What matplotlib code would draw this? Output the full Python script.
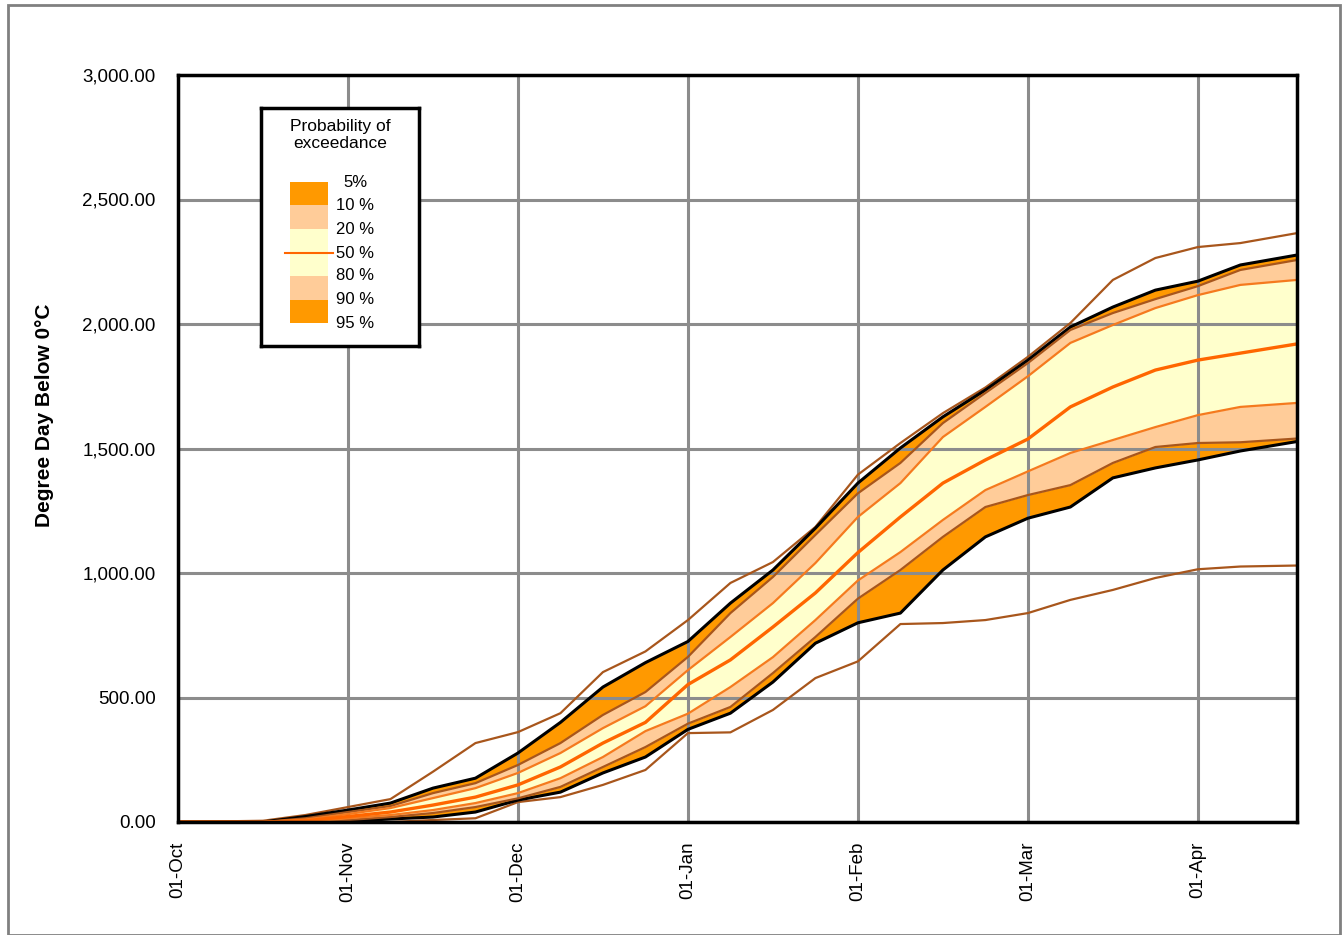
import matplotlib
matplotlib.use("Agg")
import matplotlib.pyplot as plt
from matplotlib.patches import Rectangle
from matplotlib.ticker import FuncFormatter

plt.rcParams['font.family'] = ['Liberation Sans', 'DejaVu Sans']

#--------------------- Data ---------------------
# days since 01-Oct (axis uses 30-day spacing between month ticks)
days = [0, 15, 22.5, 30, 37.5, 45, 52.5, 60, 67.5, 75, 82.5, 90, 97.5, 105, 112.5,
        120, 127.5, 135, 142.5, 150, 157.5, 165, 172.5, 180, 187.5, 197.5]

dd_max = [0, 5, 28, 60, 92, 202, 317, 361, 437, 602, 685, 811, 960, 1044, 1185,
          1395, 1522, 1642, 1745, 1868, 2004, 2177, 2265, 2309, 2325, 2365]
p05 = [0, 0, 22, 48, 76, 136, 176, 277, 400, 542, 640, 725, 879, 1012, 1180,
       1361, 1502, 1627, 1735, 1855, 1988, 2068, 2136, 2172, 2237, 2277]
p10 = [0, 0, 15, 40, 64, 116, 156, 229, 317, 430, 522, 663, 839, 984, 1153,
       1320, 1442, 1602, 1723, 1843, 1976, 2044, 2100, 2152, 2217, 2257]
p20 = [0, 0, 10, 32, 56, 96, 136, 197, 277, 377, 465, 610, 743, 879, 1040,
       1225, 1361, 1546, 1667, 1790, 1924, 1996, 2064, 2116, 2157, 2177]
p50 = [0, 0, 5, 22, 40, 68, 100, 149, 221, 317, 400, 552, 651, 783, 920,
       1082, 1225, 1361, 1454, 1538, 1667, 1747, 1815, 1855, 1883, 1920]
p80 = [0, 0, 0, 15, 28, 48, 76, 116, 176, 261, 365, 435, 542, 662, 811,
       970, 1084, 1213, 1333, 1408, 1482, 1534, 1586, 1634, 1667, 1683]
p90 = [0, 0, 0, 8, 20, 36, 60, 95, 141, 221, 301, 395, 462, 598, 743,
       897, 1012, 1145, 1265, 1313, 1353, 1442, 1506, 1522, 1525, 1540]
p95 = [0, 0, 0, 3, 12, 20, 40, 88, 120, 197, 261, 372, 437, 562, 718,
       800, 839, 1012, 1145, 1220, 1265, 1382, 1422, 1454, 1490, 1528]
dd_min = [0, 0, 0, 0, 0, 8, 15, 80, 100, 149, 209, 357, 360, 450, 578,
          645, 795, 799, 811, 839, 892, 932, 980, 1015, 1026, 1030]

month_ticks = [0, 30, 60, 90, 120, 150, 180]
month_labels = ['01-Oct', '01-Nov', '01-Dec', '01-Jan', '01-Feb', '01-Mar', '01-Apr']
y_ticks = [0, 500, 1000, 1500, 2000, 2500, 3000]

legend_title = 'Probability of\nexceedance'
legend_labels = ['5%', '10 %', '20 %', '50 %', '80 %', '90 %', '95 %']

# colours
ORANGE = '#FF9900'
PEACH = '#FFCC99'
YELLOW = '#FFFFCC'
BROWN = '#A8561C'
LINE_OR = '#F57A1E'
RED_OR = '#FF6600'
GRID = '#8C8C8C'

#--------------------- Figure ---------------------
fig = plt.figure(figsize=(13.44, 9.35), dpi=100)
ax = fig.add_axes([178/1344, 113/935, (1297-178)/1344, (822-75)/935])

# bands
ax.fill_between(days, p10, p05, color=ORANGE, lw=0, zorder=1)
ax.fill_between(days, p20, p10, color=PEACH, lw=0, zorder=1)
ax.fill_between(days, p80, p20, color=YELLOW, lw=0, zorder=1)
ax.fill_between(days, p90, p80, color=PEACH, lw=0, zorder=1)
ax.fill_between(days, p95, p90, color=ORANGE, lw=0, zorder=1)

# lines
ax.plot(days, dd_max, color=BROWN, lw=1.6, zorder=3)
ax.plot(days, dd_min, color=BROWN, lw=1.6, zorder=3)
ax.plot(days, p05, color='black', lw=2.2, zorder=3)
ax.plot(days, p95, color='black', lw=2.2, zorder=3)
ax.plot(days, p10, color=BROWN, lw=1.6, zorder=3)
ax.plot(days, p90, color=BROWN, lw=1.6, zorder=3)
ax.plot(days, p20, color=LINE_OR, lw=1.6, zorder=3)
ax.plot(days, p80, color=LINE_OR, lw=1.6, zorder=3)
ax.plot(days, p50, color=RED_OR, lw=2.4, zorder=3)

ax.set_xlim(0, 197.5)
ax.set_ylim(0, 3000)
ax.set_xticks(month_ticks)
ax.set_xticklabels(month_labels, rotation=90, fontsize=13.5)
ax.set_yticks(y_ticks)
ax.yaxis.set_major_formatter(FuncFormatter(lambda v, p: '{:,.2f}'.format(v)))
ax.tick_params(axis='y', labelsize=13.5, length=0, pad=16)
ax.tick_params(axis='x', length=0, pad=14)
ax.grid(True, color=GRID, lw=2.2)
ax.set_axisbelow(False)
for s in ax.spines.values():
    s.set_linewidth(2.5)
    s.set_zorder(4)

fig.text(45/1344, 1 - 415/935, 'Degree Day Below 0\u00b0C', rotation=90,
         fontsize=15, fontweight='bold', ha='center', va='center')

#--------------------- Legend box ---------------------
lg = fig.add_axes([261/1344, 1 - 346/935, (419-261)/1344, (346-108)/935])
lg.set_xlim(0, 158)
lg.set_ylim(238, 0)
lg.set_xticks([])
lg.set_yticks([])
for s in lg.spines.values():
    s.set_linewidth(2.5)
lg.text(79, 27, legend_title, ha='center', va='center', fontsize=12.5,
        linespacing=1.15)
band_cols = [ORANGE, PEACH, YELLOW, YELLOW, PEACH, ORANGE]
label_y = [74, 97, 121, 145, 168, 192, 215]
for i, c in enumerate(band_cols):
    lg.add_patch(Rectangle((29, label_y[i]), 38, label_y[i+1] - label_y[i],
                           color=c, lw=0))
lg.plot([24, 72], [145, 145], color=RED_OR, lw=1.5)
for lab, yy in zip(legend_labels, label_y):
    lg.text(94, yy, lab, ha='center', va='center', fontsize=12)

# outer chart border
fig.add_artist(Rectangle((8/1344, 0), (1340-8)/1344, 1 - 5/935,
                         transform=fig.transFigure, fill=False,
                         edgecolor='#808080', lw=2))

fig.savefig('out.png', dpi=100)
